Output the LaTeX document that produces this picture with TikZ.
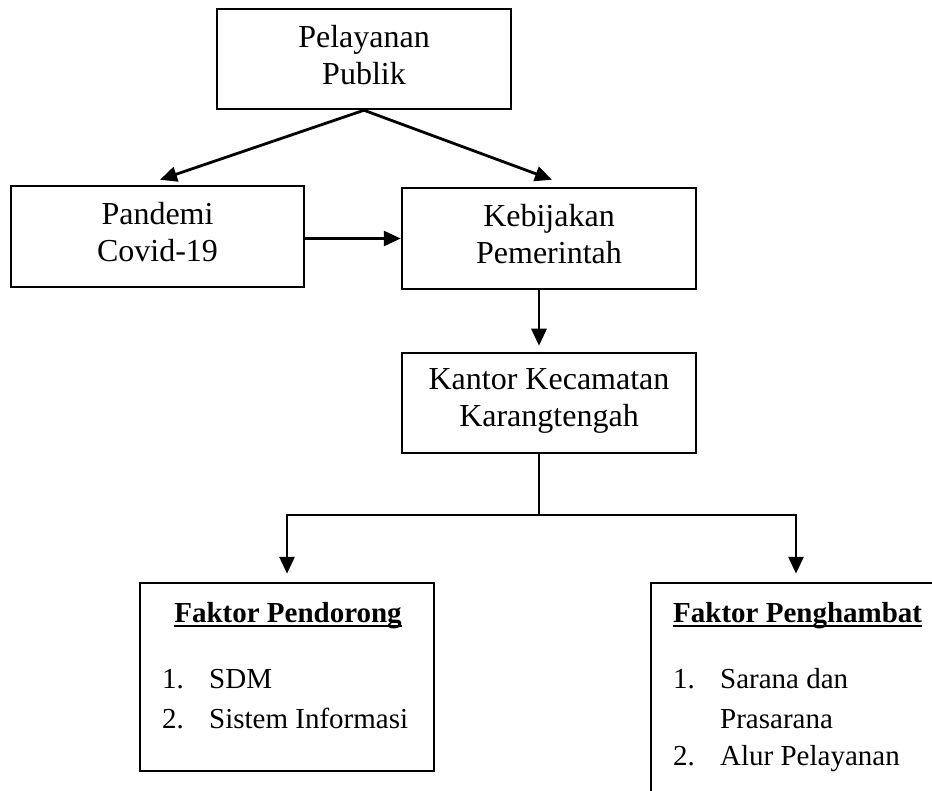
\documentclass[tikz,border=0pt]{standalone}
\usepackage{fontspec}
\setmainfont{Liberation Serif}
\usetikzlibrary{arrows.meta}
\begin{document}
\begin{tikzpicture}[x=1pt,y=-1pt,
  box/.style={draw, line width=2.5pt, rectangle, inner sep=0pt},
  big/.style={font=\fontsize{32}{37}\selectfont, align=center, inner sep=0pt, anchor=north},
  small/.style={font=\fontsize{29}{34}\selectfont, inner sep=0pt},
  arr/.style={line width=2.8pt, -{Triangle[length=17pt,width=15pt]}},
  tree/.style={line width=2.2pt}]
\useasboundingbox (0,0) rectangle (932,791);
\clip (0,0) rectangle (932,791);
% boxes
\node[box, minimum width=294pt, minimum height=100pt] (pub) at (364,59) {};
\node[big] (pubT) at ([yshift=-17pt]pub.north) {Pelayanan\\Publik};
\node[box, minimum width=293pt, minimum height=101pt] (pand) at (157.5,236.5) {};
\node[big] (pandT) at ([yshift=-17pt]pand.north) {Pandemi\\Covid-19};
\node[box, minimum width=294pt, minimum height=101pt] (keb) at (549,238.5) {};
\node[big] (kebT) at ([yshift=-17pt]keb.north) {Kebijakan\\Pemerintah};
\node[box, minimum width=294pt, minimum height=100pt] (kan) at (549,403) {};
\node[big] (kanT) at ([yshift=-17pt]kan.north) {Kantor Kecamatan\\Karangtengah};
\node[box, minimum width=294pt, minimum height=188pt] (lb) at (287,677) {};
\node[box, minimum width=290pt, minimum height=234pt] (rb) at (796,700) {};
% left box text
\node[small, anchor=base] (lbT) at (288,622) {\bfseries Faktor Pendorong};
\draw[line width=2pt] ([yshift=-4pt]lbT.base west) -- ([yshift=-4pt]lbT.base east);
\node[small, anchor=base west] (l1n) at (162,688) {1.};
\node[small, anchor=base west] (l1) at (209,688) {SDM};
\node[small, anchor=base west] (l2n) at (162,728) {2.};
\node[small, anchor=base west] (l2) at (209,728) {Sistem Informasi};
% right box text
\node[small, anchor=base west] (rbT) at (673,622) {\bfseries Faktor Penghambat};
\draw[line width=2pt] ([yshift=-4pt]rbT.base west) -- ([yshift=-4pt]rbT.base east);
\node[small, anchor=base west] (r1n) at (673,688) {1.};
\node[small, anchor=base west] (r1) at (720,688) {Sarana dan};
\node[small, anchor=base west] (r1b) at (720,728) {Prasarana};
\node[small, anchor=base west] (r2n) at (673,765) {2.};
\node[small, anchor=base west] (r2) at (720,765) {Alur Pelayanan};
% connectors
\draw[arr] (pub.south) -- ([xshift=2.5pt,yshift=5pt]pand.north);
\draw[arr] (pub.south) -- ([xshift=3pt,yshift=7pt]keb.north);
\draw[arr] (pand.east |- keb.west) -- (keb.west);
\draw[arr] ([xshift=-10pt]keb.south) -- ([xshift=-10pt,yshift=6pt]kan.north);
\coordinate (jn) at (539,515);
\draw[tree] ([xshift=-10pt]kan.south) -- (jn);
\draw[arr] (jn) -| ([yshift=8pt]lb.north);
\draw[arr] (jn) -| ([yshift=8pt]rb.north);
\end{tikzpicture}
\end{document}
